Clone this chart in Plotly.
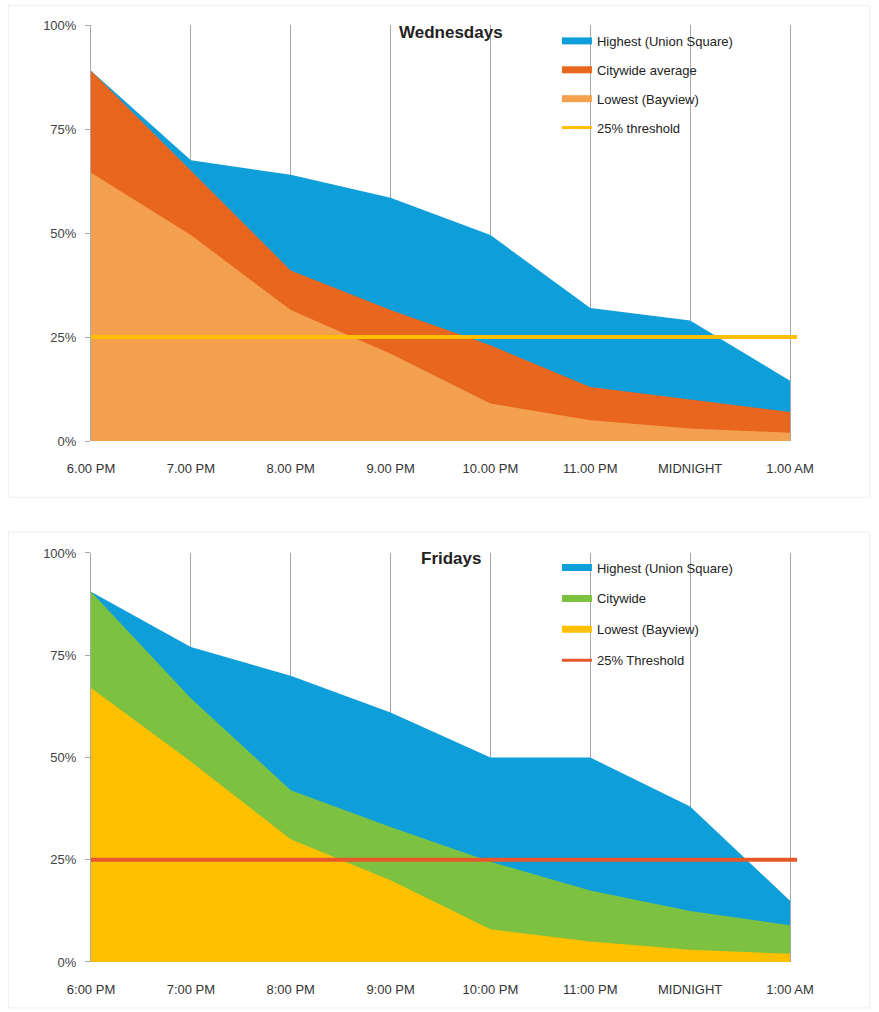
import plotly.graph_objects as go
from plotly.subplots import make_subplots

# Hour slots along the x axis
hour_pos = [0, 1, 2, 3, 4, 5, 6, 7]
wed_labels = ["6.00 PM", "7.00 PM", "8.00 PM", "9.00 PM", "10.00 PM", "11.00 PM", "MIDNIGHT", "1.00 AM"]
fri_labels = ["6:00 PM", "7:00 PM", "8:00 PM", "9:00 PM", "10:00 PM", "11:00 PM", "MIDNIGHT", "1:00 AM"]

# Wednesday occupancy shares (%)
wed_highest = [89, 67.5, 64, 58.5, 49.5, 32, 29, 14.5]
wed_citywide = [89, 65, 41, 31.5, 23, 13, 10, 7]
wed_lowest = [64.5, 49.5, 31.5, 21, 9, 5, 3, 2]

# Friday occupancy shares (%)
fri_highest = [90.5, 77, 70, 61, 50, 50, 38, 15]
fri_citywide = [90.5, 64.5, 42, 33, 24.5, 17.5, 12.5, 9]
fri_lowest = [67, 49, 30, 20, 8, 5, 3, 2]

threshold = 25
y_ticks = [0, 25, 50, 75, 100]
y_tick_text = ["0%", "25%", "50%", "75%", "100%"]

x_range = [0, 7.07]

FONT = "Liberation Sans, Arial, sans-serif"

fig = make_subplots(rows=2, cols=1, vertical_spacing=0.127)

panels = [
    dict(row=1, legend="legend", labels=wed_labels,
         series=[("Highest (Union Square)", wed_highest, "#0E9FDB"),
                 ("Citywide average", wed_citywide, "#E8661E"),
                 ("Lowest (Bayview)", wed_lowest, "#F4A14F")],
         thr_name="25% threshold", thr_color="#FFBE00"),
    dict(row=2, legend="legend2", labels=fri_labels,
         series=[("Highest (Union Square)", fri_highest, "#0E9FDB"),
                 ("Citywide", fri_citywide, "#7CC13F"),
                 ("Lowest (Bayview)", fri_lowest, "#FFC000")],
         thr_name="25% Threshold", thr_color="#E8572A"),
]

for p in panels:
    r = p["row"]
    for name, vals, color in p["series"]:
        fig.add_trace(go.Scatter(
            x=hour_pos, y=vals, mode="lines", fill="tozeroy",
            line=dict(width=0, color=color), fillcolor=color,
            showlegend=False, hoverinfo="skip"), row=r, col=1)
    fig.add_trace(go.Scatter(
        x=x_range, y=[threshold, threshold], mode="lines",
        line=dict(width=4, color=p["thr_color"]),
        showlegend=False, hoverinfo="skip"), row=r, col=1)
    # legend swatches
    for i, (name, vals, color) in enumerate(p["series"]):
        fig.add_trace(go.Scatter(
            x=[None], y=[None], mode="lines", name=name,
            line=dict(width=7, color=color), legend=p["legend"],
            legendgroup=f"{r}-{i}"), row=r, col=1)
    fig.add_trace(go.Scatter(
        x=[None], y=[None], mode="lines", name=p["thr_name"],
        line=dict(width=3, color=p["thr_color"]), legend=p["legend"],
        legendgroup=f"{r}-t"), row=r, col=1)

    fig.update_xaxes(
        row=r, col=1, range=x_range, tickmode="array", tickvals=hour_pos,
        ticktext=p["labels"], showgrid=True, gridcolor="#a8a8a8", gridwidth=1,
        zeroline=False, showline=False, ticks="", ticklabelstandoff=18,
        tickfont=dict(family=FONT, size=13, color="#333333"))
    fig.update_yaxes(
        row=r, col=1, range=[0, 100], tickmode="array", tickvals=y_ticks,
        ticktext=y_tick_text, showgrid=False, zeroline=False,
        showline=True, linecolor="#a8a8a8", linewidth=1,
        ticks="outside", ticklen=5, tickcolor="#a8a8a8", ticklabelstandoff=6,
        tickfont=dict(family=FONT, size=13, color="#444444"))

fig.update_xaxes(domain=[0, 1])
fig.update_yaxes(domain=[0.556, 1], row=1, col=1)
fig.update_yaxes(domain=[0, 0.4365], row=2, col=1)

legend_style = dict(
    bgcolor="rgba(0,0,0,0)", font=dict(family=FONT, size=13, color="#222222"),
    itemwidth=30, xanchor="left", yanchor="top", traceorder="grouped")

# faint frames around each panel (paper coords)
frame_boxes = [(0.496, 1.021), (-0.049, 0.459)]
shapes = [
    dict(type="rect", xref="paper", yref="paper",
         x0=-0.117, x1=1.103, y0=y0, y1=y1,
         line=dict(color="#eeeeee", width=1), fillcolor="rgba(0,0,0,0)", layer="below")
    for y0, y1 in frame_boxes
]

fig.update_layout(
    width=879, height=1012,
    margin=dict(l=91, r=82, t=25, b=50),
    paper_bgcolor="white", plot_bgcolor="white",
    showlegend=True,
    legend=dict(x=0.66, y=0.999, tracegroupgap=9, **legend_style),
    legend2=dict(x=0.66, y=0.437, tracegroupgap=11, **legend_style),
    shapes=shapes,
    annotations=[
        dict(text="<b>Wednesdays</b>", x=0.51, y=0.992, xref="paper", yref="paper",
             xanchor="center", yanchor="middle", showarrow=False,
             font=dict(family=FONT, size=17, color="#222222")),
        dict(text="<b>Fridays</b>", x=0.51, y=0.431, xref="paper", yref="paper",
             xanchor="center", yanchor="middle", showarrow=False,
             font=dict(family=FONT, size=17, color="#222222")),
    ],
)

fig.write_html("out.html")
